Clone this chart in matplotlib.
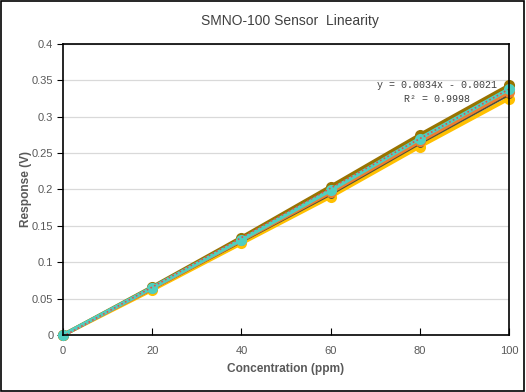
import matplotlib.pyplot as plt
from matplotlib.patches import Rectangle

# concentrations (ppm) and sensor responses (V) for each run
conc = [0, 20, 40, 60, 80, 100]
run_olive = [0, 0.066, 0.134, 0.204, 0.275, 0.343]
run_teal = [0, 0.065, 0.131, 0.199, 0.270, 0.338]
run_orange = [0, 0.064, 0.130, 0.196, 0.266, 0.334]
run_dark = [0, 0.063, 0.128, 0.193, 0.263, 0.330]
run_yellow = [0, 0.062, 0.126, 0.190, 0.259, 0.325]

# linear trend shown on the chart
slope = 0.0034
intercept = -0.0021
r2 = 0.9998

xticks = [0, 20, 40, 60, 80, 100]
yticks = [0, 0.05, 0.1, 0.15, 0.2, 0.25, 0.3, 0.35, 0.4]
ytick_labels = ["0", "0.05", "0.1", "0.15", "0.2", "0.25", "0.3", "0.35", "0.4"]

plt.rcParams["font.family"] = ["Liberation Sans", "DejaVu Sans"]
gray = "#595959"

fig = plt.figure(figsize=(5.26, 3.92), dpi=100)
ax = fig.add_axes([0.1198, 0.1454, 0.8479, 0.7424])

series = [
    (run_yellow, "#FFC000", 2.8, 8),
    (run_dark, "#4F4F3A", 1.6, 5),
    (run_orange, "#ED7D31", 2.8, 8),
    (run_olive, "#997300", 2.8, 8),
    (run_teal, "#4FCFC0", 2.8, 8),
]
for vals, col, w, m in series:
    ax.plot(conc, vals, color=col, lw=w, marker="o", ms=m,
            markeredgewidth=0, clip_on=False)

trend_x = [0, 100]
trend_y = [slope * x + intercept for x in trend_x]
ax.plot(trend_x, trend_y, color="#E0504D", lw=1.2, ls=(0, (1, 1.5)))

ax.text(0.8386, 0.859, "y = {:.4f}x - {:.4f}".format(slope, -intercept),
        transform=ax.transAxes, ha="center", va="center",
        family="Liberation Mono", fontsize=7.2, color="#404040")
ax.text(0.8386, 0.811, "R² = {:.4f}".format(r2),
        transform=ax.transAxes, ha="center", va="center",
        family="Liberation Mono", fontsize=7.2, color="#404040")

ax.set_xlim(0, 100)
ax.set_ylim(0, 0.4)
ax.set_xticks(xticks)
ax.set_yticks(yticks)
ax.set_yticklabels(ytick_labels)
ax.yaxis.grid(True, color="#D9D9D9", lw=0.9)
ax.set_axisbelow(True)
ax.tick_params(axis="x", direction="in", length=5, colors="black",
               labelcolor=gray, labelsize=8, pad=8)
ax.tick_params(axis="y", direction="out", length=4, colors="black",
               labelcolor=gray, labelsize=8, pad=3)
for s in ax.spines.values():
    s.set_color("black")
    s.set_linewidth(1.2)

ax.set_xlabel("Concentration (ppm)", fontsize=8.6, fontweight="bold",
              color=gray, labelpad=5)
ax.set_ylabel("Response (V)", fontsize=8.6, fontweight="bold",
              color=gray, labelpad=0)
fig.text(0.552, 0.946, "SMNO-100 Sensor  Linearity", ha="center",
         va="center", fontsize=10, color="#404040")

# outer chart border
fig.patches.append(Rectangle((0.002, 0.003), 0.995, 0.994,
                             transform=fig.transFigure, fill=False,
                             edgecolor="black", lw=1.2))

fig.savefig("out.png", dpi=100)
